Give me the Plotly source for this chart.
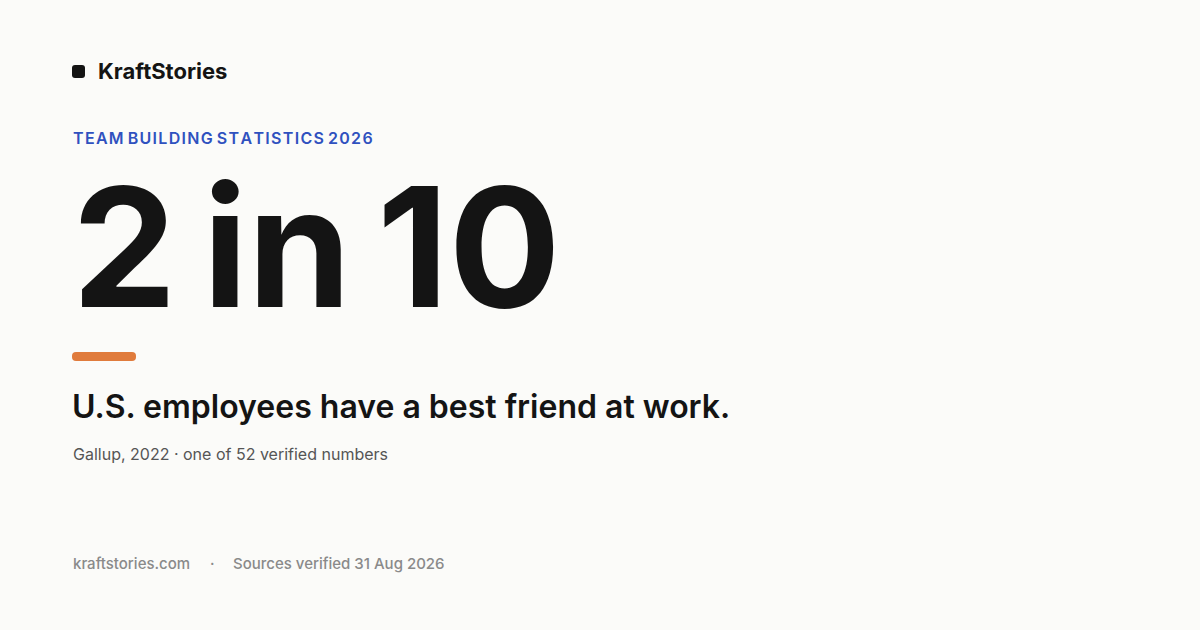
import plotly.graph_objects as go

# card content
brand = "KraftStories"
kicker = "TEAM BUILDING STATISTICS 2026"
big_stat = "2\u2009in\u200910"
headline = "U.S. employees have a best friend at work."
source = "Gallup, 2022 · one of 52 verified numbers"
footer_site = "kraftstories.com"
footer_note = "Sources verified 31 Aug 2026"

W, H = 1200, 630
BG = "#FBFBF9"
INK = "#141414"
FONT = "Inter"


def rounded_rect(x0, y0, x1, y1, r):
    return (f"M {x0+r},{y0} L {x1-r},{y0} Q {x1},{y0} {x1},{y0+r} "
            f"L {x1},{y1-r} Q {x1},{y1} {x1-r},{y1} L {x0+r},{y1} "
            f"Q {x0},{y1} {x0},{y1-r} L {x0},{y0+r} Q {x0},{y0} {x0+r},{y0} Z")


fig = go.Figure()

fig.add_shape(type="path", path=rounded_rect(72, 65, 85, 78, 3),
              fillcolor=INK, line_width=0)
fig.add_shape(type="path", path=rounded_rect(72, 352, 136, 361, 4),
              fillcolor="#E07B3C", line_width=0)


def txt(x, y, s, size, color, weight=400, anchor="left"):
    fig.add_annotation(x=x, y=y, text=s, showarrow=False, xanchor=anchor,
                       yanchor="middle",
                       font=dict(family=FONT, size=size, color=color, weight=weight))


txt(96, 71, brand, 22, INK, 700)
txt(71, 138, "\u200a".join(kicker).replace("\u200a \u200a", " "), 16, "#2F51BF", 600)
txt(70, 246, big_stat, 166, INK, 700)
txt(70, 406, headline, 32, INK, 600)
txt(71, 454, source, 16, "#555555", 400)
txt(71, 563, footer_site, 15, "#8A8A8A", 500)
txt(212, 563, "·", 15, "#8A8A8A", 500, "center")
txt(231, 563, footer_note, 15, "#8A8A8A", 500)

fig.update_xaxes(range=[0, W], visible=False, fixedrange=True)
fig.update_yaxes(range=[H, 0], visible=False, fixedrange=True)
fig.update_layout(width=W, height=H, margin=dict(l=0, r=0, t=0, b=0),
                  paper_bgcolor=BG, plot_bgcolor=BG, showlegend=False)

fig.write_html("out.html", config={"displayModeBar": False},
               post_script="document.body.style.margin='0';")
